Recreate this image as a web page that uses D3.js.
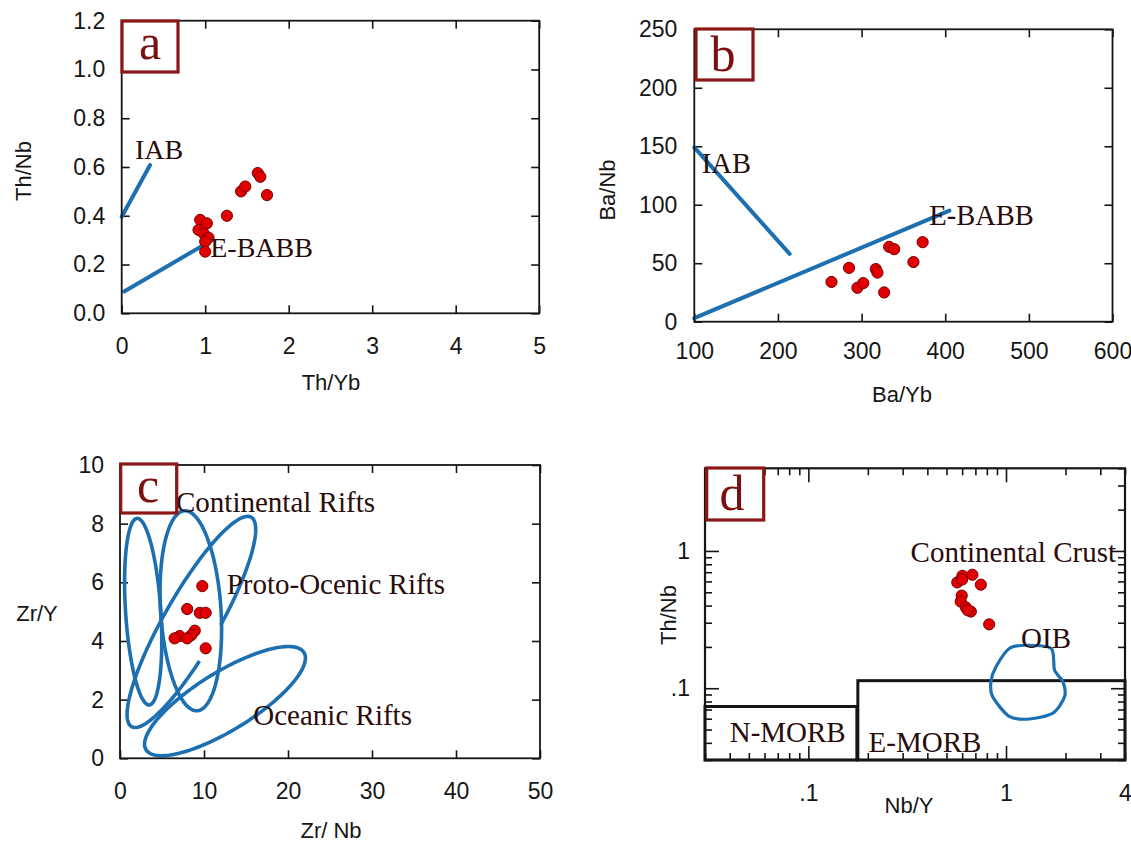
<!DOCTYPE html>
<html>
<head>
<meta charset="utf-8">
<script src="https://cdn.jsdelivr.net/npm/d3@7"></script>
<style>
  body { margin: 0; background: #fff; }
</style>
</head>
<body>
<svg id="chart" width="1131" height="843"></svg>
<script>
// ---------------- Panel a : Th/Nb vs Th/Yb ----------------
const aSamples = [
  [0.94, 0.383], [1.02, 0.369], [0.92, 0.342], [0.98, 0.328], [1.04, 0.31],
  [1.00, 0.294], [1.00, 0.253], [1.26, 0.40], [1.43, 0.50], [1.48, 0.52],
  [1.63, 0.575], [1.66, 0.56], [1.74, 0.485]
];
const aIAB = [[0, 0.396], [0.34, 0.608]];
const aEBABB = [[0.03, 0.089], [1.08, 0.30]];
const aXTicks = [0, 1, 2, 3, 4, 5];
const aYTicks = [0, 0.2, 0.4, 0.6, 0.8, 1.0, 1.2];
const aNotes = [
  { text: "IAB", x: 0.16, y: 0.633 },
  { text: "E-BABB", x: 1.06, y: 0.231 }
];

// ---------------- Panel b : Ba/Nb vs Ba/Yb ----------------
const bSamples = [
  [264, 34], [285, 46], [295, 29], [302, 33], [317, 45], [319, 42],
  [327, 25], [333, 64], [339, 62], [362, 51], [373, 68]
];
const bIAB = [[100, 149], [214, 58]];
const bEBABB = [[100, 3], [405, 95]];
const bXTicks = [100, 200, 300, 400, 500, 600];
const bYTicks = [0, 50, 100, 150, 200, 250];
const bNotes = [
  { text: "IAB", x: 109, y: 127 },
  { text: "E-BABB", x: 381, y: 82.6 }
];

// ---------------- Panel c : Zr/Y vs Zr/Nb ----------------
const cSamples = [
  [9.8, 5.87], [8.0, 5.09], [9.5, 4.96], [10.2, 4.96], [8.9, 4.35],
  [8.5, 4.2], [7.1, 4.17], [6.5, 4.09], [8.0, 4.09], [10.2, 3.75]
];
// field outlines: centre + two conjugate semi-axes (data units)
const cFields = [
  { c: [2.76, 5.0], a: [-0.7, 3.18], b: [2.1, 0], gap: null },
  { c: [8.43, 5.03], a: [-0.69, 3.41], b: [3.6, 0], gap: null },
  { c: [8.5, 4.65], a: [6.7, 3.6], b: [3.7, 0], gap: [1.6, 1.95] },
  { c: [12.5, 1.95], a: [9.5, 1.6], b: [-1.2, 0.95], gap: null }
];
const cXTicks = [0, 10, 20, 30, 40, 50];
const cYTicks = [0, 2, 4, 6, 8, 10];
const cNotes = [
  { text: "Continental Rifts", x: 6.67, y: 8.39 },
  { text: "Proto-Ocenic Rifts", x: 12.7, y: 5.6 },
  { text: "Oceanic Rifts", x: 15.87, y: 1.135 }
];

// ---------------- Panel d : Th/Nb vs Nb/Y (log-log) ----------------
const dSamples = [
  [0.567, 0.59], [0.602, 0.659], [0.676, 0.671], [0.746, 0.568], [0.60, 0.62],
  [0.597, 0.473], [0.59, 0.428], [0.626, 0.389], [0.664, 0.362], [0.64, 0.37],
  [0.822, 0.292]
];
const dOIB = [
  [1.039, 0.1946], [1.264, 0.2056], [1.693, 0.1946], [1.76, 0.1356],
  [1.94, 0.1116], [1.98, 0.0869], [1.726, 0.0659], [1.314, 0.0597],
  [1.039, 0.0623], [0.855, 0.0869], [0.839, 0.1116], [0.89, 0.1432]
];
const dNMORB = { x: [0.03, 0.176], y: [0.03, 0.0736] };
const dEMORB = { x: [0.178, 4], y: [0.03, 0.1135] };
const dXLabels = [[0.1, ".1"], [1, "1"], [4, "4"]];
const dYLabels = [[1, "1"], [0.1, ".1"]];
const dMajor = [0.1, 1];
const dNotes = [
  { text: "Continental Crust", x: 0.329, y: 0.837 },
  { text: "OIB", x: 1.192, y: 0.1956 },
  { text: "N-MORB", x: 0.04, y: 0.0407 },
  { text: "E-MORB", x: 0.2018, y: 0.0345 }
];

// ---------------- styling ----------------
const SANS = "'Liberation Sans', Arial, sans-serif";
const SERIF = "'Liberation Serif', 'Times New Roman', serif";
const INK = "#151515";
const BLUE = "#1c6fb1";
const DOT = "#e10000";
const DOT_EDGE = "#7a0000";
const NOTE = "#2a0c0c";
const TAG = "#8a1616";

const svg = d3.select("#chart");
svg.append("rect").attr("width", 1131).attr("height", 843).attr("fill", "#fff");

function styleAxis(sel) {
  sel.select(".domain").remove();
  sel.attr("font-family", SANS).attr("font-size", 23).attr("color", INK);
  sel.selectAll("line").attr("stroke-width", 1.6);
  return sel;
}

function drawAxes(x, y, o) {
  const [x0, x1] = x.range(), [y0, y1] = y.range();
  const g = svg.append("g");
  styleAxis(g.append("g").attr("transform", `translate(0,${y0})`)
    .call(d3.axisBottom(x).tickValues(o.xTicks).tickFormat(o.xFmt).tickSize(-o.tick).tickPadding(o.xPad)));
  styleAxis(g.append("g").attr("transform", `translate(0,${y1})`)
    .call(d3.axisTop(x).tickValues(o.xTicks).tickFormat("").tickSize(-o.tick)));
  styleAxis(g.append("g").attr("transform", `translate(${x0},0)`)
    .call(d3.axisLeft(y).tickValues(o.yTicks).tickFormat(o.yFmt).tickSize(-o.tick).tickPadding(o.yPad)));
  styleAxis(g.append("g").attr("transform", `translate(${x1},0)`)
    .call(d3.axisRight(y).tickValues(o.yTicks).tickFormat("").tickSize(-o.tick)));
}

function drawFrame(x, y, w) {
  const [x0, x1] = x.range(), [y0, y1] = y.range();
  svg.append("rect").attr("x", x0).attr("y", y1).attr("width", x1 - x0).attr("height", y0 - y1)
    .attr("fill", "none").attr("stroke", INK).attr("stroke-width", w || 1.8);
}

function drawTag(letter, bx, by, bw, bh, tx, ty) {
  svg.append("rect").attr("x", bx).attr("y", by).attr("width", bw).attr("height", bh)
    .attr("fill", "#fff").attr("stroke", TAG).attr("stroke-width", 3.2);
  svg.append("text").attr("x", tx).attr("y", ty).attr("text-anchor", "middle")
    .attr("font-family", SERIF).attr("font-size", 50).attr("fill", "#7a1010").text(letter);
}

function axisTitle(text, x, y, rotate) {
  svg.append("text")
    .attr("transform", `translate(${x},${y})` + (rotate ? " rotate(-90)" : ""))
    .attr("text-anchor", "middle").attr("dominant-baseline", "central")
    .attr("font-family", SANS).attr("font-size", 22).attr("fill", INK).text(text);
}

function drawDots(data, x, y) {
  svg.append("g").selectAll("circle").data(data).join("circle")
    .attr("cx", d => x(d[0])).attr("cy", d => y(d[1])).attr("r", 5.6)
    .attr("fill", DOT).attr("stroke", DOT_EDGE).attr("stroke-width", 1);
}

function drawNotes(notes, x, y, size) {
  svg.append("g").selectAll("text").data(notes).join("text")
    .attr("x", d => x(d.x)).attr("y", d => y(d.y))
    .attr("font-family", SERIF).attr("font-size", size).attr("fill", NOTE)
    .text(d => d.text);
}

function drawSegment(pts, x, y, w) {
  svg.append("path").attr("d", d3.line().x(d => x(d[0])).y(d => y(d[1]))(pts))
    .attr("fill", "none").attr("stroke", BLUE).attr("stroke-width", w).attr("stroke-linecap", "round");
}

// ================= a =================
{
  const x = d3.scaleLinear().domain([0, 5]).range([121.7, 539.2]);
  const y = d3.scaleLinear().domain([0, 1.2]).range([313.3, 20.7]);
  drawAxes(x, y, { xTicks: aXTicks, yTicks: aYTicks, xFmt: d3.format("d"), yFmt: d3.format(".1f"), tick: 8, xPad: 24, yPad: 16.5 });
  drawSegment(aIAB, x, y, 4);
  drawSegment(aEBABB, x, y, 4);
  drawDots(aSamples, x, y);
  drawNotes(aNotes, x, y, 28);
  drawFrame(x, y);
  drawTag("a", 122, 21, 56, 51, 150, 59);
  axisTitle("Th/Yb", 331, 382, false);
  axisTitle("Th/Nb", 23, 171, true);
}

// ================= b =================
{
  const x = d3.scaleLinear().domain([100, 600]).range([694.3, 1112.5]);
  const y = d3.scaleLinear().domain([0, 250]).range([321.7, 29.3]);
  drawAxes(x, y, { xTicks: bXTicks, yTicks: bYTicks, xFmt: d3.format("d"), yFmt: d3.format("d"), tick: 8, xPad: 21, yPad: 17 });
  drawSegment(bIAB, x, y, 4);
  drawSegment(bEBABB, x, y, 4);
  drawDots(bSamples, x, y);
  drawNotes(bNotes, x, y, 28.5);
  drawFrame(x, y);
  drawTag("b", 696, 29, 57, 51, 723, 71);
  axisTitle("Ba/Yb", 902, 394, false);
  axisTitle("Ba/Nb", 607, 190, true);
}

// ================= c =================
{
  const x = d3.scaleLinear().domain([0, 50]).range([120, 540]);
  const y = d3.scaleLinear().domain([0, 10]).range([758.3, 465]);
  drawAxes(x, y, { xTicks: cXTicks, yTicks: cYTicks, xFmt: d3.format("d"), yFmt: d3.format("d"), tick: 8, xPad: 24, yPad: 16 });
  const line = d3.line().x(d => x(d[0])).y(d => y(d[1])).curve(d3.curveLinear);
  cFields.forEach(f => {
    const t0 = f.gap ? f.gap[1] : 0;
    const t1 = f.gap ? f.gap[0] + 2 * Math.PI : 2 * Math.PI;
    const n = 180;
    const pts = d3.range(n + 1).map(i => {
      const t = t0 + (t1 - t0) * i / n;
      return [f.c[0] + f.a[0] * Math.cos(t) + f.b[0] * Math.sin(t),
              f.c[1] + f.a[1] * Math.cos(t) + f.b[1] * Math.sin(t)];
    });
    svg.append("path").attr("d", line(pts) + (f.gap ? "" : "Z"))
      .attr("fill", "none").attr("stroke", BLUE).attr("stroke-width", 3.6);
  });
  drawDots(cSamples, x, y);
  drawNotes(cNotes, x, y, 29);
  drawFrame(x, y);
  drawTag("c", 120.7, 464, 56, 49, 148, 502);
  axisTitle("Zr/ Nb", 331, 830, false);
  axisTitle("Zr/Y", 37, 613, false);
}

// ================= d =================
{
  const x = d3.scaleLog().domain([0.03, 4]).range([705, 1125]);
  const y = d3.scaleLog().domain([0.03, 4]).range([760, 468.3]);
  const g = svg.append("g");
  const minorX = x.ticks().filter(v => !dMajor.some(m => Math.abs(m - v) < 1e-9));
  const minorY = y.ticks().filter(v => !dMajor.some(m => Math.abs(m - v) < 1e-9));
  const [x0, x1] = x.range(), [y0, y1] = y.range();
  // minor ticks on all four sides
  styleAxis(g.append("g").attr("transform", `translate(0,${y0})`).call(d3.axisBottom(x).tickValues(minorX).tickFormat("").tickSize(-7)));
  styleAxis(g.append("g").attr("transform", `translate(0,${y1})`).call(d3.axisTop(x).tickValues(minorX).tickFormat("").tickSize(-7)));
  styleAxis(g.append("g").attr("transform", `translate(${x0},0)`).call(d3.axisLeft(y).tickValues(minorY).tickFormat("").tickSize(-7)));
  styleAxis(g.append("g").attr("transform", `translate(${x1},0)`).call(d3.axisRight(y).tickValues(minorY).tickFormat("").tickSize(-7)));
  // major ticks
  styleAxis(g.append("g").attr("transform", `translate(0,${y0})`).call(d3.axisBottom(x).tickValues(dMajor).tickFormat("").tickSize(-14)));
  styleAxis(g.append("g").attr("transform", `translate(0,${y1})`).call(d3.axisTop(x).tickValues(dMajor).tickFormat("").tickSize(-14)));
  styleAxis(g.append("g").attr("transform", `translate(${x0},0)`).call(d3.axisLeft(y).tickValues(dMajor).tickFormat("").tickSize(-14)));
  styleAxis(g.append("g").attr("transform", `translate(${x1},0)`).call(d3.axisRight(y).tickValues(dMajor).tickFormat("").tickSize(-14)));
  // tick labels
  const xl = new Map(dXLabels), yl = new Map(dYLabels);
  styleAxis(g.append("g").attr("transform", `translate(0,${y0})`)
    .call(d3.axisBottom(x).tickValues(dXLabels.map(d => d[0])).tickFormat(v => xl.get(v)).tickSize(0).tickPadding(25)));
  styleAxis(g.append("g").attr("transform", `translate(${x0},0)`)
    .call(d3.axisLeft(y).tickValues(dYLabels.map(d => d[0])).tickFormat(v => yl.get(v)).tickSize(0).tickPadding(15)));

  // MORB fields
  [dNMORB, dEMORB].forEach(r => {
    svg.append("rect").attr("x", x(r.x[0])).attr("y", y(r.y[1]))
      .attr("width", x(r.x[1]) - x(r.x[0])).attr("height", y(r.y[0]) - y(r.y[1]))
      .attr("fill", "none").attr("stroke", INK).attr("stroke-width", 3);
  });
  // OIB field
  svg.append("path")
    .attr("d", d3.line().x(d => x(d[0])).y(d => y(d[1])).curve(d3.curveCardinalClosed.tension(0.2))(dOIB))
    .attr("fill", "none").attr("stroke", BLUE).attr("stroke-width", 3.2);
  drawDots(dSamples, x, y);
  drawNotes(dNotes, x, y, 29);
  drawFrame(x, y, 2.2);
  drawTag("d", 706.7, 468, 57, 52, 732, 510);
  axisTitle("Nb/Y", 909, 805, false);
  axisTitle("Th/Nb", 668, 615, true);
}
</script>
</body>
</html>
